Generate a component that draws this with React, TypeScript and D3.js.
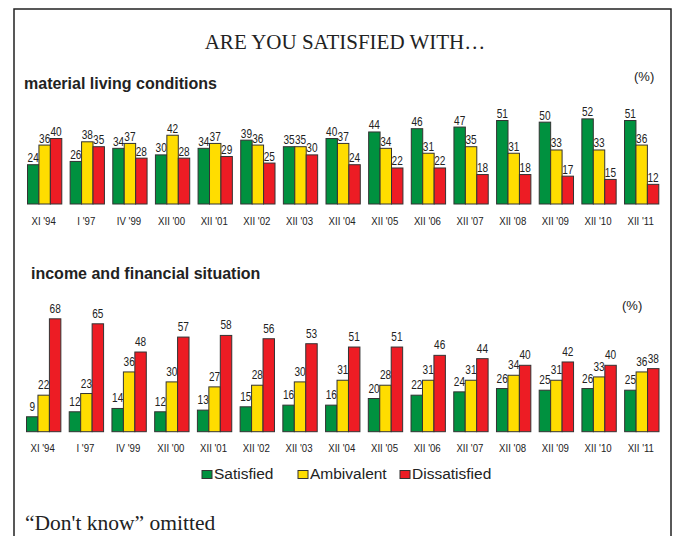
import React from "react";
import * as d3 from "d3";

const categories = ["XI '94", "I '97", "IV '99", "XII '00", "XII '01", "XII '02", "XII '03", "XII '04", "XII '05", "XII '06", "XII '07", "XII '08", "XII '09", "XII '10", "XII '11"];
const seriesNames = ["Satisfied", "Ambivalent", "Dissatisfied"];
const seriesColors = ["#00913f", "#ffdd00", "#ed1c24"];

const materialSatisfied = [24, 26, 34, 30, 34, 39, 35, 40, 44, 46, 47, 51, 50, 52, 51];
const materialAmbivalent = [36, 38, 37, 42, 37, 36, 35, 37, 34, 31, 35, 31, 33, 33, 36];
const materialDissatisfied = [40, 35, 28, 28, 29, 25, 30, 24, 22, 22, 18, 18, 17, 15, 12];

const incomeSatisfied = [9, 12, 14, 12, 13, 15, 16, 16, 20, 22, 24, 26, 25, 26, 25];
const incomeAmbivalent = [22, 23, 36, 30, 27, 28, 30, 31, 28, 31, 31, 34, 31, 33, 36];
const incomeDissatisfied = [68, 65, 48, 57, 58, 56, 53, 51, 51, 46, 44, 40, 42, 40, 38];

const W = 677;
const H = 536;
const sans = "'Liberation Sans', Arial, sans-serif";
const serif = "'Liberation Serif', 'Times New Roman', serif";
const NARROW = 0.84;

type PanelProps = {
  series: number[][];
  x0: number;
  x1: number;
  baseline: number;
  pxPerUnit: number;
  labelGap: number;
  tickBaseline: number;
};

function NarrowText({ x, y, size, children }: { x: number; y: number; size: number; children: React.ReactNode }) {
  return (
    <text
      transform={`translate(${x},${y}) scale(${NARROW},1)`}
      textAnchor="middle"
      fontFamily={sans}
      fontSize={size}
      fill="#222"
    >
      {children}
    </text>
  );
}

function Panel({ series, x0, x1, baseline, pxPerUnit, labelGap, tickBaseline }: PanelProps) {
  const xg = d3.scaleBand<string>().domain(categories).range([x0, x1]).paddingInner(0.196).paddingOuter(0);
  const xs = d3.scaleBand<string>().domain(seriesNames).range([0, xg.bandwidth()]).padding(0);
  const y = d3.scaleLinear().domain([0, 70]).range([baseline, baseline - 70 * pxPerUnit]);
  return (
    <g>
      {categories.map((c, i) => (
        <g key={c} transform={`translate(${xg(c)},0)`}>
          {seriesNames.map((s, k) => {
            const v = series[k][i];
            const bx = xs(s)!;
            return (
              <g key={s}>
                <rect x={bx} y={y(v)} width={xs.bandwidth()} height={baseline - y(v)} fill={seriesColors[k]} stroke="#333" strokeWidth={1} />
                <NarrowText x={bx + xs.bandwidth() / 2} y={y(v) - labelGap} size={12}>{v}</NarrowText>
              </g>
            );
          })}
          <NarrowText x={xg.bandwidth() / 2 - 1} y={tickBaseline} size={11.5}>{c}</NarrowText>
        </g>
      ))}
    </g>
  );
}

export default function App() {
  const legendItems = [
    { name: seriesNames[0], x: 202 },
    { name: seriesNames[1], x: 298 },
    { name: seriesNames[2], x: 400 },
  ];
  return (
    <svg width={W} height={H} style={{ position: "absolute", left: 0, top: 0, background: "#fff" }}>
      <rect x={0} y={0} width={W} height={H} fill="#fff" />
      <rect x={14} y={9} width={657} height={560} fill="none" stroke="#222" strokeWidth={1.5} />
      <text x={345} y={49} textAnchor="middle" fontFamily={serif} fontSize={21} fill="#222">ARE YOU SATISFIED WITH…</text>

      <text x={24} y={89} fontFamily={sans} fontWeight="bold" fontSize={16} fill="#222">material living conditions</text>
      <text x={634} y={81} fontFamily={sans} fontSize={13} fill="#222">(%)</text>
      <Panel
        series={[materialSatisfied, materialAmbivalent, materialDissatisfied]}
        x0={27.5}
        x1={658.8}
        baseline={204}
        pxPerUnit={1.637}
        labelGap={2.5}
        tickBaseline={224.5}
      />

      <text x={31} y={279} fontFamily={sans} fontWeight="bold" fontSize={16} fill="#222">income and financial situation</text>
      <text x={622} y={309.5} fontFamily={sans} fontSize={13} fill="#222">(%)</text>
      <Panel
        series={[incomeSatisfied, incomeAmbivalent, incomeDissatisfied]}
        x0={26.5}
        x1={659}
        baseline={431.7}
        pxPerUnit={1.66}
        labelGap={6}
        tickBaseline={452}
      />

      {legendItems.map((it, k) => (
        <g key={it.name}>
          <rect x={it.x} y={470.5} width={10} height={8} fill={seriesColors[k]} stroke="#333" strokeWidth={1} />
          <text x={it.x + 12} y={478.5} fontFamily={sans} fontSize={15.5} fill="#222">{it.name}</text>
        </g>
      ))}

      <text x={25} y={530} fontFamily={serif} fontSize={21.5} fill="#222">“Don't know” omitted</text>
    </svg>
  );
}
